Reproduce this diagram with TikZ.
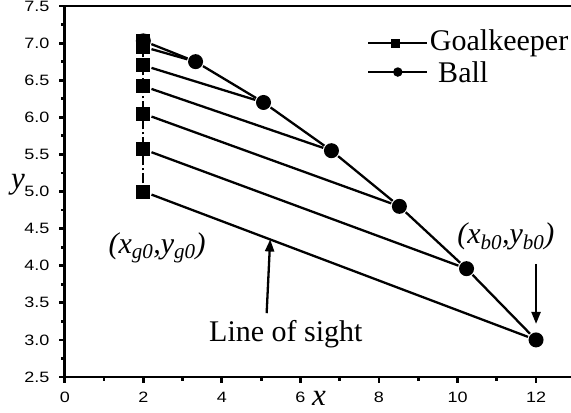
\documentclass[tikz,border=0pt]{standalone}
\usepackage{fontspec}
\setmainfont{Liberation Serif}
\setsansfont{Liberation Sans}
\usetikzlibrary{
    arrows.meta
}
\tikzset{
    >={Triangle[length=12pt,width=9pt]},
    portero/.style={
        rectangle,
        fill=black,
        minimum size=14pt,
        inner sep=0pt
    },
    balon/.style={
        circle,
        fill=black,
        minimum size=15pt,
        inner sep=0pt
    },
    eje/.style={line width=2.8pt},
    numero/.style={font=\fontsize{15}{17}\sffamily\selectfont, xscale=1.2},
    etiqueta/.style={font=\fontsize{30}{34}\selectfont}
}

\begin{document}
\begin{tikzpicture}[
    x=39.27pt,
    y=74.2pt,
    line width=2.3pt
]

    \useasboundingbox (-1.650,2.028) rectangle (12.890,7.581);

    % Ejes
    \draw[eje] (12.9,7.5) -- (0,7.5) -- (0,2.5) -- (12.9,2.5);
    \foreach \v in {2.5,3.0,3.5,4.0,4.5,5.0,5.5,6.0,6.5,7.0,7.5} {
        \draw[eje] (0,\v) -- ++(-6pt,0);
        \node[numero, anchor=east] at ([xshift=-10pt]0,\v) {\v};
    }
    \foreach \v in {2.75,3.25,...,7.25}
        \draw[eje] (0,\v) -- ++(-3.5pt,0);
    \foreach \u in {0,2,...,12} {
        \draw[eje] (\u,2.5) -- ++(0,-6pt);
        \node[numero] at ([yshift=-20pt]\u,2.5) {\u};
    }
    \foreach \u in {1,3,...,11}
        \draw[eje] (\u,2.5) -- ++(0,-3.5pt);

    \node[etiqueta, font=\fontsize{31}{34}\selectfont\itshape] (ejey) at (-1.19,5.09) {y};
    \node[etiqueta, font=\fontsize{31}{34}\selectfont\itshape] (ejex) at (6.47,2.21) {x};

    % Balon
    \node[balon] (b0) at (12,3.0)     {};
    \node[balon] (b1) at (10.23,3.96) {};
    \node[balon] (b2) at (8.52,4.80)  {};
    \node[balon] (b3) at (6.79,5.55)  {};
    \node[balon] (b4) at (5.06,6.20)  {};
    \node[balon] (b5) at (3.33,6.75)  {};
    \node[balon] (b6) at (2,7.03)     {};

    % Portero
    \node[portero] (g0) at (2,5.00) {};
    \node[portero] (g1) at (2,5.57) {};
    \node[portero] (g2) at (2,6.05) {};
    \node[portero] (g3) at (2,6.42) {};
    \node[portero] (g4) at (2,6.70) {};
    \node[portero] (g5) at (2,6.95) {};
    \node[portero] (g6) at (2,7.03) {};

    % Trayectorias
    \draw[dash pattern=on 10pt off 3pt on 2pt off 3pt] (g0) -- (g6);
    \draw (b6) -- (b5) -- (b4) -- (b3) -- (b2) -- (b1) -- (b0);

    % Lineas de vision
    \foreach \k in {0,...,5}
        \draw (g\k) -- (b\k);

    % Leyenda
    \coordinate (la1) at (7.73,7.00);
    \coordinate (lb1) at (9.23,7.00);
    \coordinate (la2) at (7.73,6.61);
    \coordinate (lb2) at (9.23,6.61);
    \draw (la1) -- (lb1);
    \draw (la2) -- (lb2);
    \node[portero, minimum size=9pt] (lg) at (8.42,7.00) {};
    \node[balon, minimum size=9.5pt] (lbl) at (8.48,6.61) {};
    \node[etiqueta, anchor=west, inner sep=0pt] (tg) at (9.27,7.00) {Goalkeeper};
    \node[etiqueta, anchor=west, inner sep=0pt] (tb) at (9.48,6.61) {Ball};

    % Etiquetas
    \node[etiqueta, font=\fontsize{30}{34}\selectfont\itshape] (pg) at (2.35,4.24)
        {(x\textsubscript{g0},y\textsubscript{g0})};
    \node[etiqueta, font=\fontsize{30}{34}\selectfont\itshape] (pb) at (11.23,4.39)
        {(x\textsubscript{b0},y\textsubscript{b0})};
    \node[etiqueta] (linea) at (5.63,3.08) {Line of sight};

    % Flechas
    \path (g0.center) -- (b0.center) coordinate[pos=0.323] (vista);
    \coordinate (pie) at (5.14,3.36);
    \draw[->] (pie) -- (vista);
    \draw[->] ([yshift=76pt]b0.center) -- ([yshift=16pt]b0.center);

\end{tikzpicture}
\end{document}
